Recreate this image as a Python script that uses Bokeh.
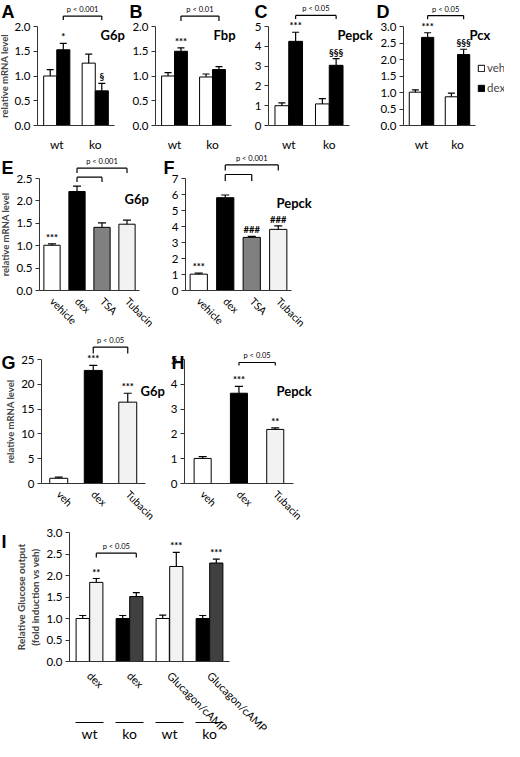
from math import pi
from bokeh.plotting import figure
from bokeh.models import (ColumnDataSource, Range1d, Label, Legend, LegendItem, FixedTicker,
                          SingleIntervalTicker, NumeralTickFormatter)
from bokeh.layouts import row, column
from bokeh.transform import dodge
from bokeh.core.properties import value
from bokeh.embed import file_html
from bokeh.resources import INLINE

FONT = "Lato"
LETTER_FONT = "Liberation Sans"

# ---- panels A-D: wt / ko, veh / dex
genotype = ["wt", "ko"]

g6p_veh = [1.00, 1.26]
g6p_veh_err = [0.13, 0.18]
g6p_dex = [1.53, 0.70]
g6p_dex_err = [0.13, 0.15]
g6p_sig = ["*", "§"]
g6p_p = "p < 0.001"

fbp_veh = [1.00, 0.98]
fbp_veh_err = [0.07, 0.06]
fbp_dex = [1.50, 1.13]
fbp_dex_err = [0.07, 0.06]
fbp_sig = ["***", ""]
fbp_p = "p < 0.01"

pepck_veh = [1.00, 1.09]
pepck_veh_err = [0.14, 0.27]
pepck_dex = [4.25, 3.04]
pepck_dex_err = [0.46, 0.34]
pepck_sig = ["***", "§§§"]
pepck_p = "p < 0.05"

pcx_veh = [1.01, 0.87]
pcx_veh_err = [0.07, 0.11]
pcx_dex = [2.67, 2.15]
pcx_dex_err = [0.14, 0.16]
pcx_sig = ["***", "§§§"]
pcx_p = "p < 0.05"

# ---- panels E-F: HDAC inhibitors
hdac_treat = ["vehicle", "dex", "TSA", "Tubacin"]
e_g6p = [1.01, 2.21, 1.41, 1.48]
e_g6p_err = [0.03, 0.12, 0.10, 0.09]
e_g6p_sig = ["***", "", "", ""]
e_p = "p < 0.001"

f_pepck = [1.02, 5.80, 3.32, 3.82]
f_pepck_err = [0.06, 0.17, 0.06, 0.22]
f_pepck_sig = ["***", "", "###", "###"]
f_p = "p < 0.001"

# ---- panels G-H: Tubacin
tub_treat = ["veh", "dex", "Tubacin"]
g_g6p = [1.05, 22.8, 16.4]
g_g6p_err = [0.25, 1.0, 1.8]
g_g6p_sig = ["", "***", "***"]
g_p = "p < 0.05"

h_pepck = [1.01, 3.64, 2.18]
h_pepck_err = [0.07, 0.28, 0.06]
h_pepck_sig = ["", "***", "**"]
h_p = "p < 0.05"

# ---- panel I: glucose output
i_treat_label = ["dex", "dex", "Glucagon/cAMP", "Glucagon/cAMP"]
i_strain = ["wt", "ko", "wt", "ko"]
i_veh = [1.00, 1.00, 1.00, 1.00]
i_veh_err = [0.07, 0.07, 0.08, 0.07]
i_trt = [1.84, 1.51, 2.21, 2.29]
i_trt_err = [0.09, 0.09, 0.33, 0.09]
i_sig = ["**", "", "***", "***"]
i_p = "p < 0.05"

VEH_FILL = {"wt": "white", "ko": "black"}
TRT_FILL = {"wt": "#f2f2f2", "ko": "#404040"}
HDAC_FILL = ["white", "black", "#808080", "#f2f2f2"]
TUB_FILL = ["white", "black", "#f2f2f2"]


def frame_fig(labels, W, H, axis_left, cw, y0, ytop, ymax, step, fmt):
    # the frame fills the whole figure; axes sit at fixed data locations
    n = len(labels)
    ppu = (y0 - ytop) / ymax
    xs = -0.5 - axis_left / cw
    p = figure(x_range=Range1d(xs, xs + W / cw), y_range=Range1d(-(H - y0) / ppu, y0 / ppu),
               width=W, height=H, min_border=0, toolbar_location=None, tools="",
               output_backend="svg")
    p.outline_line_color = None
    p.grid.grid_line_color = None
    p.xaxis.fixed_location = 0
    p.xaxis.bounds = (-0.5, n - 0.5)
    p.xaxis.ticker = FixedTicker(ticks=list(range(n)))
    p.xaxis.major_label_overrides = {i: lab for i, lab in enumerate(labels)}
    p.xaxis.major_tick_line_color = None
    p.xaxis.minor_tick_line_color = None
    p.yaxis.fixed_location = -0.5
    p.yaxis.bounds = (0, ymax)
    p.yaxis.ticker = SingleIntervalTicker(interval=step, num_minor_ticks=0)
    p.yaxis.formatter = NumeralTickFormatter(format=fmt)
    p.yaxis.major_tick_in = 0
    p.yaxis.major_tick_out = 4
    p.yaxis.minor_tick_line_color = None
    p.yaxis.major_label_standoff = 3
    p.yaxis.major_tick_line_color = "#333333"
    p.axis.axis_line_color = "#333333"
    p.axis.major_label_text_font = FONT
    p.axis.major_label_text_font_size = "11.5px"
    p.axis.major_label_text_color = "black"
    p.yaxis.axis_label_text_font = FONT
    p.yaxis.axis_label_text_font_style = "bold"
    p.yaxis.axis_label_text_font_size = "9.5px"
    p.yaxis.axis_label_standoff = 2
    return p


def note(p, text, x, y, size, font=FONT):
    p.add_layout(Label(x=x, y=p.height - y, x_units="screen", y_units="screen",
                       text=text, text_font=font, text_font_size=size, text_font_style="bold",
                       text_baseline="top", text_color="black"))


def bars(p, src, off, top, hi, width, fill, cap=7):
    x = dodge("x", off)
    r = p.vbar(x=x, top=top, width=width, fill_color=fill, line_color="black",
               line_width=1, source=src)
    p.segment(x0=x, y0=top, x1=x, y1=hi, line_color="black", line_width=1.2, source=src)
    p.scatter(x=x, y=hi, marker="dash", size=cap, line_color="black", line_width=1.2, source=src)
    return r


def stars(p, src, off, hi, sig):
    p.text(x=dodge("x", off), y=hi, text=sig, source=src, y_offset=-1,
           text_align="center", text_baseline="bottom", text_font=value(FONT),
           text_font_style="bold", text_font_size="9.5px", text_color="black")


def bracket(p, a, b, off, y, leg, text=""):
    src = ColumnDataSource(dict(x0=[a], x1=[b], y=[y], leg=[leg], text=[text]))
    xa = dodge("x0", off)
    xb = dodge("x1", off)
    kw = dict(line_color="black", line_width=1.2, source=src)
    p.segment(x0=xa, y0="y", x1=xb, y1="y", **kw)
    p.segment(x0=xa, y0="y", x1=xa, y1="leg", **kw)
    p.segment(x0=xb, y0="y", x1=xb, y1="leg", **kw)
    if text:
        p.text(x=dodge("x0", off + (b - a) / 2), y="y", text="text", source=src,
               y_offset=-2, text_align="center", text_baseline="bottom",
               text_font=value(FONT), text_font_size="7.5px", text_color="black")


def hi(vals, errs):
    return [v + e for v, e in zip(vals, errs)]


def wtko_panel(letter, gene, veh, veh_err, dex, dex_err, sig, pval, W, axis_left, cw,
               ymax, step, fmt, br_y, br_leg, letter_x, gene_x, ylabel=None):
    p = frame_fig(genotype, W, 150, axis_left, cw, 125, 26, ymax, step, fmt)
    src = ColumnDataSource(dict(x=list(range(len(genotype))), veh=veh, veh_hi=hi(veh, veh_err),
                                dex=dex, dex_hi=hi(dex, dex_err), sig=sig))
    r_veh = bars(p, src, -0.17, "veh", "veh_hi", 0.34, "white")
    r_dex = bars(p, src, 0.17, "dex", "dex_hi", 0.34, "black")
    stars(p, src, 0.17, "dex_hi", "sig")
    bracket(p, 0, 1, 0.17, br_y, br_leg, pval)
    p.xaxis.major_label_standoff = 5
    p.xaxis.major_label_text_font_size = "12px"
    if ylabel:
        p.yaxis.axis_label = ylabel
        p.yaxis.axis_label_standoff = 1
    note(p, letter, letter_x, 1, "18px", font=LETTER_FONT)
    note(p, gene, gene_x, 26, "13px")
    return p, r_veh, r_dex


pA, _, _ = wtko_panel("A", "G6p", g6p_veh, g6p_veh_err, g6p_dex, g6p_dex_err, g6p_sig, g6p_p,
                      127, 37, 38.5, 2.0, 0.5, "0.0", 2.21, 2.13, 1, 100, "relative mRNA level")
pB, _, _ = wtko_panel("B", "Fbp", fbp_veh, fbp_veh_err, fbp_dex, fbp_dex_err, fbp_sig, fbp_p,
                      123, 28, 38, 2.0, 0.5, "0.0", 2.21, 2.11, 2, 86)
pC, _, _ = wtko_panel("C", "Pepck", pepck_veh, pepck_veh_err, pepck_dex, pepck_dex_err,
                      pepck_sig, pepck_p, 125, 18, 40.5, 5, 1, "0", 5.56, 5.38, 4, 87)
pD, rv, rd = wtko_panel("D", "Pcx", pcx_veh, pcx_veh_err, pcx_dex, pcx_dex_err, pcx_sig, pcx_p,
                        129, 28, 36, 3.0, 0.5, "0.0", 3.33, 3.22, 1, 94)
legend = Legend(items=[LegendItem(label="veh", renderers=[rv]),
                       LegendItem(label="dex", renderers=[rd])],
                location=(102, 56), label_text_font=FONT, label_text_font_size="11.5px",
                glyph_width=8, glyph_height=8, label_standoff=2, label_height=12,
                spacing=7, padding=0, margin=0, border_line_color=None,
                background_fill_alpha=0)
pD.add_layout(legend)


def single_panel(letter, gene, cats, vals, errs, sig, fills, W, H, axis_left, cw, y0, ytop,
                 ymax, step, fmt, width, brackets, letter_xy, gene_xy, ylabel=None):
    p = frame_fig(cats, W, H, axis_left, cw, y0, ytop, ymax, step, fmt)
    src = ColumnDataSource(dict(x=list(range(len(cats))), v=vals, v_hi=hi(vals, errs),
                                sig=sig, fill=fills))
    bars(p, src, 0, "v", "v_hi", width, "fill", cap=8)
    stars(p, src, 0, "v_hi", "sig")
    for a, b, y, leg, text in brackets:
        bracket(p, cats.index(a), cats.index(b), 0, y, leg, text)
    p.xaxis.major_label_orientation = -pi / 4
    p.xaxis.major_label_standoff = 3
    p.xaxis.major_label_text_font_size = "10.5px"
    if ylabel:
        p.yaxis.axis_label = ylabel
    note(p, letter, letter_xy[0], letter_xy[1], "18px", font=LETTER_FONT)
    note(p, gene, gene_xy[0], gene_xy[1], "13px")
    return p


pE = single_panel("E", "G6p", hdac_treat, e_g6p, e_g6p_err, e_g6p_sig, HDAC_FILL,
                  160, 180, 39, 25, 140, 28, 2.5, 0.5, "0.0", 0.65,
                  [("dex", "Tubacin", 2.73, 2.62, e_p), ("dex", "TSA", 2.53, 2.42, "")],
                  (1, 7), (124, 40), "relative mRNA level")
pF = single_panel("F", "Pepck", hdac_treat, f_pepck, f_pepck_err, f_pepck_sig, HDAC_FILL,
                  344, 180, 25, 26.5, 140, 28, 7, 1, "0", 0.65,
                  [("dex", "Tubacin", 7.85, 7.5, f_p), ("dex", "TSA", 7.25, 6.85, "")],
                  (3, 7), (116, 44))
pG = single_panel("G", "G6p", tub_treat, g_g6p, g_g6p_err, g_g6p_sig, TUB_FILL,
                  170, 193, 41, 34.5, 153, 29, 25, 5, "0", 0.52,
                  [("dex", "Tubacin", 27.5, 26.2, g_p)],
                  (1, 22), (140, 52), "relative mRNA level")
pH = single_panel("H", "Pepck", tub_treat, h_pepck, h_pepck_err, h_pepck_sig, TUB_FILL,
                  334, 193, 14, 36.3, 153, 29, 5, 1, "0", 0.47,
                  [("dex", "Tubacin", 4.88, 4.76, h_p)],
                  (1, 22), (106, 52))

# ---- panel I (with the wt / ko strain row underneath)
W_I, H_I, Y0_I = 504, 218, 138
pI = frame_fig(i_treat_label, W_I, H_I, 69, 40, Y0_I, 9, 3.0, 0.5, "0.0")
ppu_i = (Y0_I - 9) / 3.0
src_i = ColumnDataSource(dict(x=list(range(len(i_strain))), veh=i_veh, veh_hi=hi(i_veh, i_veh_err),
                              trt=i_trt, trt_hi=hi(i_trt, i_trt_err), sig=i_sig, strain=i_strain,
                              veh_fill=[VEH_FILL[s] for s in i_strain],
                              trt_fill=[TRT_FILL[s] for s in i_strain]))
bars(pI, src_i, -0.17, "veh", "veh_hi", 0.33, "veh_fill")
bars(pI, src_i, 0.17, "trt", "trt_hi", 0.33, "trt_fill")
stars(pI, src_i, 0.17, "trt_hi", "sig")
bracket(pI, 0, 1, 0.17, 2.52, 2.42, i_p)
pI.xaxis.major_label_orientation = -pi / 4
pI.xaxis.major_label_standoff = 6
pI.xaxis.major_label_text_font_size = "11px"
pI.yaxis.axis_label = "Relative Glucose output\n(fold induction vs veh)"
pI.yaxis.axis_label_text_font_size = "10px"
note(pI, "I", 1, 8, "18px", font=LETTER_FONT)
line_y = -(199 - Y0_I) / ppu_i
pI.segment(x0=dodge("x", -0.35), y0=line_y, x1=dodge("x", 0.35), y1=line_y,
           line_color="black", line_width=1.2, source=src_i)
pI.text(x="x", y=line_y, y_offset=2, text="strain", source=src_i, text_align="center",
        text_baseline="top", text_font=value(FONT), text_font_size="14px", text_color="black")

layout = column(row(pA, pB, pC, pD), row(pE, pF), row(pG, pH), pI)
open("out.html", "w").write(file_html(layout, INLINE))
